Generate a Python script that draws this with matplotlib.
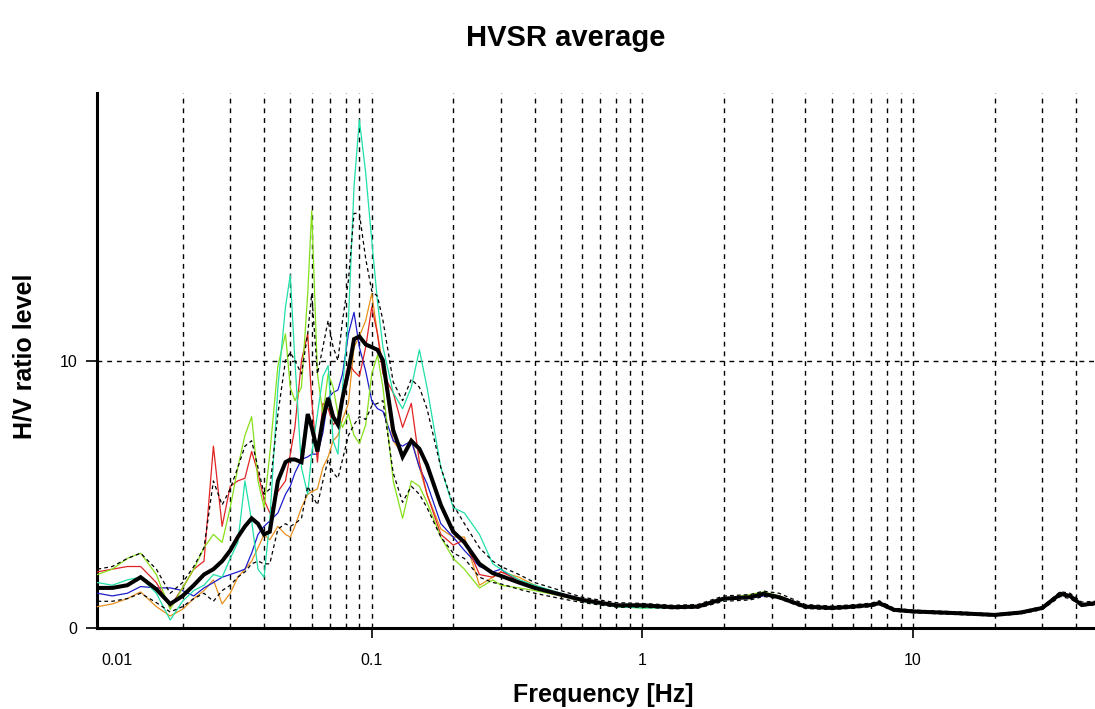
import matplotlib
matplotlib.use('Agg')
import matplotlib.pyplot as plt
from matplotlib.ticker import LogLocator, NullFormatter, FixedLocator, FixedFormatter

plt.rcParams['font.family'] = ['Liberation Sans', 'DejaVu Sans']

# frequency grid (Hz)
freq = [0.0097, 0.011, 0.0125, 0.014, 0.016, 0.018, 0.020, 0.022, 0.024, 0.026,
        0.028, 0.030, 0.032, 0.034, 0.036, 0.038, 0.040, 0.042, 0.045, 0.048,
        0.050, 0.052, 0.055, 0.058, 0.060, 0.063, 0.066, 0.069, 0.072, 0.075,
        0.078, 0.082, 0.086, 0.090, 0.095, 0.100, 0.105, 0.110, 0.120, 0.130,
        0.140, 0.150, 0.160, 0.180, 0.200, 0.220, 0.250, 0.280, 0.300, 0.350,
        0.400, 0.500, 0.600, 0.800, 1.0,
        1.3, 1.6, 2.0, 2.5, 2.8, 3.2, 4.0, 5.0, 6.0, 7.0,
        7.5, 8.5, 10, 15, 20, 25, 30, 35, 38, 42, 47]

# individual windows
red = [2.1, 2.2, 2.3, 2.3, 1.7, 0.8, 1.5, 2.2, 2.5, 6.8,
       3.8, 5.3, 5.5, 5.6, 6.6, 5.8, 4.8, 4.3, 5.1, 5.5,
       6.5, 7.5, 10.0, 11.0, 8.5, 6.2, 8.4, 8.2, 7.6, 7.8,
       8.8, 9.9, 9.6, 9.4, 10.5, 12.0, 11.0, 9.5, 8.8, 7.5,
       8.4, 6.2, 5.0, 3.5, 3.1, 3.3, 2.0, 1.9, 2.1, 1.8,
       1.55, 1.2, 1.0, 0.85, 0.82,
       0.8, 0.85, 1.1, 1.2, 1.3, 1.2, 0.82, 0.78, 0.8, 0.85,
       0.9, 0.7, 0.62, 0.56, 0.5, 0.58, 0.74, 1.25, 1.15, 0.88, 0.92]
lime = [2.0, 2.2, 2.6, 2.8, 2.0, 0.7, 1.5, 2.2, 3.0, 3.5,
        3.2, 4.5, 6.0, 7.2, 7.9, 5.5, 4.5, 6.5, 9.8, 11.0,
        9.0, 8.5, 9.0, 12.5, 15.6, 9.5, 8.0, 9.5, 9.0, 8.0,
        7.5, 8.0, 7.2, 6.9, 7.6, 9.5, 10.2, 9.0, 5.5, 4.1,
        5.5, 5.3, 4.7, 3.4, 2.6, 2.2, 1.5, 1.8, 1.6, 1.5,
        1.4, 1.2, 1.0, 0.8, 0.75,
        0.78, 0.82, 1.1, 1.25, 1.35, 1.2, 0.8, 0.76, 0.8, 0.86,
        0.94, 0.68, 0.62, 0.56, 0.5, 0.57, 0.74, 1.3, 1.2, 0.9, 0.94]
teal = [1.7, 1.6, 1.8, 1.9, 1.3, 0.3, 1.0, 1.4, 1.6, 2.0,
        1.9, 2.6, 3.2, 5.5, 4.0, 2.2, 1.9, 4.0, 9.0, 12.0,
        13.2, 10.0, 6.0, 5.0, 6.5, 8.0, 9.4, 9.8, 7.0, 6.5,
        9.0, 11.5, 16.5, 19.0, 17.0, 14.5, 12.2, 10.5, 8.8, 8.2,
        9.0, 10.4, 9.0, 6.0, 4.5, 4.3, 3.5, 2.4, 2.2, 1.8,
        1.6, 1.3, 1.0, 0.8, 0.75,
        0.76, 0.8, 1.05, 1.15, 1.25, 1.15, 0.78, 0.76, 0.78, 0.85,
        0.92, 0.66, 0.6, 0.55, 0.48, 0.56, 0.72, 1.25, 1.18, 0.88, 0.9]
blue = [1.3, 1.2, 1.3, 1.55, 1.5, 1.5, 1.4, 1.2, 1.5, 1.7,
        1.9, 2.0, 2.1, 2.2, 2.8, 3.5, 3.8, 4.0, 4.3, 5.0,
        5.3, 5.8, 6.3, 6.4, 6.5, 6.5, 7.3, 8.6, 8.8, 8.9,
        9.5, 11.0, 11.8, 10.5, 9.6, 8.5, 8.2, 8.1, 7.0, 6.8,
        7.0, 6.0, 5.4, 3.9, 3.4, 2.9, 2.3, 2.1, 2.2, 1.7,
        1.5, 1.25, 1.05, 0.85, 0.82,
        0.8, 0.8, 1.08, 1.12, 1.2, 1.15, 0.78, 0.74, 0.8, 0.85,
        0.98, 0.68, 0.62, 0.57, 0.49, 0.56, 0.73, 1.27, 1.2, 0.88, 0.92]
orange = [0.8, 0.9, 1.1, 1.35, 0.8, 0.45, 0.7, 1.1, 1.4, 1.8,
          0.9, 1.3, 1.9, 2.2, 2.5, 3.0, 3.5, 3.3, 3.8, 3.5,
          3.4, 3.8, 4.5, 5.0, 5.1, 5.2, 6.0, 6.4, 7.0, 7.2,
          7.8, 8.4, 10.5, 10.9, 11.5, 12.5, 11.0, 9.8, 7.0, 6.5,
          7.1, 6.0, 5.0, 3.7, 3.4, 3.4, 1.6, 1.9, 2.1, 1.9,
          1.6, 1.25, 1.05, 0.85, 0.8,
          0.8, 0.82, 1.1, 1.18, 1.3, 1.2, 0.8, 0.76, 0.8, 0.86,
          0.95, 0.7, 0.63, 0.56, 0.5, 0.58, 0.74, 1.28, 1.2, 0.88, 0.92]

# average and +/- std curves
upper = [2.2, 2.3, 2.6, 2.8, 2.2, 1.3, 1.7, 2.3, 3.0, 5.5,
         4.6, 5.2, 6.0, 6.8, 7.0, 6.0, 5.0, 5.2, 8.0, 10.0,
         10.3, 10.0, 9.5, 11.0, 12.5, 9.5, 10.5, 11.5, 10.5, 10.0,
         11.5, 13.0, 15.5, 15.5, 13.8, 12.6, 12.4, 11.5, 9.2, 8.5,
         9.3, 9.0, 8.2, 6.0, 4.6, 3.9, 3.0, 2.5, 2.3, 2.0,
         1.7, 1.4, 1.15, 0.95, 0.92,
         0.85, 0.88, 1.2, 1.25, 1.38, 1.3, 0.88, 0.82, 0.87, 0.93,
         1.02, 0.74, 0.67, 0.6, 0.53, 0.62, 0.8, 1.36, 1.3, 0.97, 1.0]
lower = [1.0, 1.0, 1.1, 1.3, 0.95, 0.6, 0.8, 1.1, 1.3, 1.0,
         1.4, 1.6, 1.9, 2.1, 2.4, 2.5, 2.4, 2.4, 3.7, 3.9,
         3.8, 3.9, 4.1, 5.3, 5.0, 4.6, 5.5, 6.3, 5.8, 5.6,
         6.3, 7.2, 7.6, 7.9, 7.8, 8.3, 8.4, 8.5, 5.8, 4.7,
         5.3, 5.0, 4.5, 3.4, 2.8, 2.6, 1.9, 1.7, 1.65, 1.45,
         1.3, 1.1, 0.95, 0.78, 0.78,
         0.72, 0.74, 1.0, 1.05, 1.18, 1.1, 0.73, 0.69, 0.74, 0.8,
         0.87, 0.63, 0.57, 0.5, 0.45, 0.53, 0.69, 1.18, 1.1, 0.83, 0.86]
average = [1.5, 1.5, 1.6, 1.9, 1.45, 0.9, 1.2, 1.6, 2.0, 2.2,
           2.5, 2.9, 3.4, 3.8, 4.1, 3.9, 3.5, 3.6, 5.5, 6.2,
           6.3, 6.3, 6.2, 8.0, 7.5, 6.6, 7.8, 8.6, 7.9, 7.6,
           8.6, 9.6, 10.8, 10.9, 10.6, 10.5, 10.4, 10.0, 7.4, 6.4,
           7.0, 6.7, 6.1, 4.6, 3.6, 3.2, 2.4, 2.05, 1.95, 1.7,
           1.5, 1.25, 1.05, 0.85, 0.85,
           0.78, 0.8, 1.1, 1.15, 1.28, 1.15, 0.8, 0.75, 0.8, 0.86,
           0.93, 0.68, 0.62, 0.55, 0.49, 0.58, 0.75, 1.28, 1.2, 0.86, 0.93]

x_ticks = [0.01, 0.1, 1, 10]
x_ticklabels = ['0.01', '0.1', '1', '10']
y_ticks = [0, 10]

fig = plt.figure(figsize=(10.95, 7.09), dpi=100)
ax = fig.add_axes([0.0886, 0.1142, 0.9114, 0.7546])

for vals, col in [(orange, '#e8901c'), (blue, '#1c1ccc'), (red, '#e02424'),
                  (lime, '#86e01a'), (teal, '#1fe0a8')]:
    ax.plot(freq, vals, color=col, lw=0.9, zorder=3)
ax.plot(freq, upper, color='black', lw=0.9, ls=(0, (3, 2.5)), zorder=4)
ax.plot(freq, lower, color='black', lw=0.9, ls=(0, (3, 2.5)), zorder=4)
ax.plot(freq, average, color='black', lw=2.9, zorder=5, solid_joinstyle='miter')

ax.set_xscale('log')
ax.set_xlim(0.00966, 47)
ax.set_ylim(0, 20)

ax.xaxis.set_major_locator(FixedLocator(x_ticks))
ax.xaxis.set_major_formatter(FixedFormatter(x_ticklabels))
ax.xaxis.set_minor_locator(LogLocator(base=10, subs=range(2, 10), numticks=20))
ax.xaxis.set_minor_formatter(NullFormatter())
ax.set_yticks(y_ticks)
ax.set_yticklabels([str(v) for v in y_ticks])

ax.grid(True, which='both', axis='x', color='black', lw=1.0, ls=(0, (3.5, 3.5)), zorder=1)
ax.grid(True, which='major', axis='y', color='black', lw=1.0, ls=(0, (3.5, 3.5)), zorder=1)

for s in ['top', 'right']:
    ax.spines[s].set_visible(False)
for s in ['left', 'bottom']:
    ax.spines[s].set_linewidth(2.2)
ax.tick_params(axis='x', which='major', length=7, width=1.2, pad=11, labelsize=11.5, direction='out')
ax.tick_params(axis='x', which='minor', length=0)
ax.tick_params(axis='y', length=8, width=1.2, pad=6, labelsize=11.5)

# the 0.01 position sits on the left edge: no grid line or tick mark there
first = ax.xaxis.get_major_ticks()[0]
first.gridline.set_visible(False)
first.tick1line.set_visible(False)
ax.get_xticklabels()[0].set_horizontalalignment('left')

fig.text(0.517, 0.946, 'HVSR average', ha='center', va='center', fontsize=21, fontweight='bold')
fig.text(0.551, 0.0099, 'Frequency [Hz]', ha='center', va='baseline', fontsize=18, fontweight='bold')
fig.text(0.022, 1 - 356 / 709, 'H/V ratio level', rotation=90, ha='center', va='center',
         fontsize=18, fontweight='bold')

fig.savefig('out.png', dpi=100)
